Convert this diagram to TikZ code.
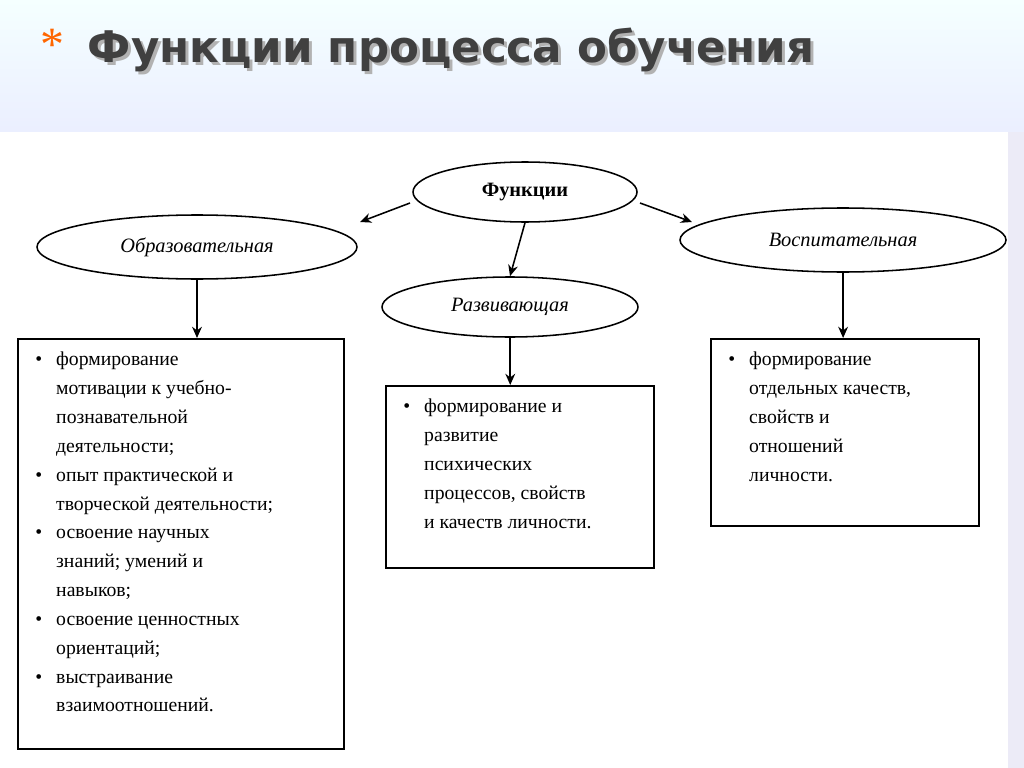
\documentclass[tikz,border=0pt]{standalone}
\usepackage{fontspec}
\usepackage{enumitem}
\setmainfont{Liberation Serif}
\newfontfamily\titlefont{DejaVu Sans}
\usetikzlibrary{shapes.geometric,arrows.meta}

\tikzset{
  func/.style={draw, line width=1.1pt, ellipse, inner sep=0pt, font=\fontsize{14.5}{16}\selectfont},
  listbox/.style={draw, line width=1.1pt, anchor=north west, inner sep=0pt},
  listtext/.style={anchor=north west, inner sep=0pt, font=\fontsize{14}{20.5}\selectfont},
  arr/.style={line width=1.1pt, -{Stealth[length=8pt,width=7pt]}}
}
\setlist[itemize]{leftmargin=22pt, labelsep=10pt, itemsep=0pt, topsep=0pt, parsep=0pt}

\begin{document}
\begin{tikzpicture}[x=0.025cm, y=-0.025cm]
    \useasboundingbox (0,0) rectangle (1024,768);
    % background
    \shade[top color=cyan!4, bottom color=cyan!20!blue!8] (0,0) rectangle (1024,132);
    \fill[cyan!15!blue!7] (1008,132) rectangle (1024,768);
    \fill[white] (0,132) rectangle (1008,768);

    % title
    \node[anchor=west, text=black!30, font=\titlefont\bfseries\fontsize{31}{34}\selectfont] at (86,53) {Функции процесса обучения};
    \node[anchor=west, text=black!75, font=\titlefont\bfseries\fontsize{31}{34}\selectfont] (title) at (83,50) {Функции процесса обучения};
    \node[text=orange!80!red, font=\fontsize{34}{34}\selectfont] (star) at (52,45) {*};

    % ellipses
    \node[func, minimum width=224*0.025cm, minimum height=60*0.025cm, font=\bfseries\fontsize{14.5}{16}\selectfont] (main) at (525,192) {Функции};
    \node[func, minimum width=320*0.025cm, minimum height=64*0.025cm] (obr) at (197,247) {\itshape Образовательная};
    \node[func, minimum width=256*0.025cm, minimum height=60*0.025cm] (razv) at (510,307) {\itshape Развивающая};
    \node[func, minimum width=326*0.025cm, minimum height=64*0.025cm] (vosp) at (843,240) {\itshape Воспитательная};

    % boxes
    \node[listbox, minimum width=326*0.025cm, minimum height=410*0.025cm] (obrbox) at (17,338) {};
    \node[listtext] at (25,352) {\begin{minipage}{7.9cm}\raggedright\begin{itemize}
      \item формирование\\ мотивации к учебно-\\познавательной\\ деятельности;
      \item опыт практической и\\ творческой деятельности;
      \item освоение научных\\ знаний; умений и\\ навыков;
      \item освоение ценностных\\ ориентаций;
      \item выстраивание\\ взаимоотношений.
    \end{itemize}\end{minipage}};
    \node[listbox, minimum width=268*0.025cm, minimum height=182*0.025cm] (razvbox) at (385,385) {};
    \node[listtext] at (393,399) {\begin{minipage}{6.5cm}\raggedright\begin{itemize}
      \item формирование и\\ развитие\\ психических\\ процессов, свойств\\ и качеств личности.
    \end{itemize}\end{minipage}};
    \node[listbox, minimum width=268*0.025cm, minimum height=187*0.025cm] (vospbox) at (710,338) {};
    \node[listtext] at (718,352) {\begin{minipage}{6.5cm}\raggedright\begin{itemize}
      \item формирование\\ отдельных качеств,\\ свойств и\\ отношений\\ личности.
    \end{itemize}\end{minipage}};

    % arrows
    \coordinate (m1) at (410,203);
    \coordinate (m2) at (640,203);
    \draw[arr] (m1) -- (360,222);
    \draw[arr] (main.south) -- (razv.north);
    \draw[arr] (m2) -- (692,222);
    \draw[arr] (obr.south) -- (obrbox.north -| obr.south);
    \draw[arr] (razv.south) ++(10*0.025,0) coordinate (r1) -- (razvbox.north -| r1);
    \draw[arr] (vosp.south) ++(4*0.025,0) coordinate (v2) -- (vospbox.north -| v2);
\end{tikzpicture}
\end{document}
